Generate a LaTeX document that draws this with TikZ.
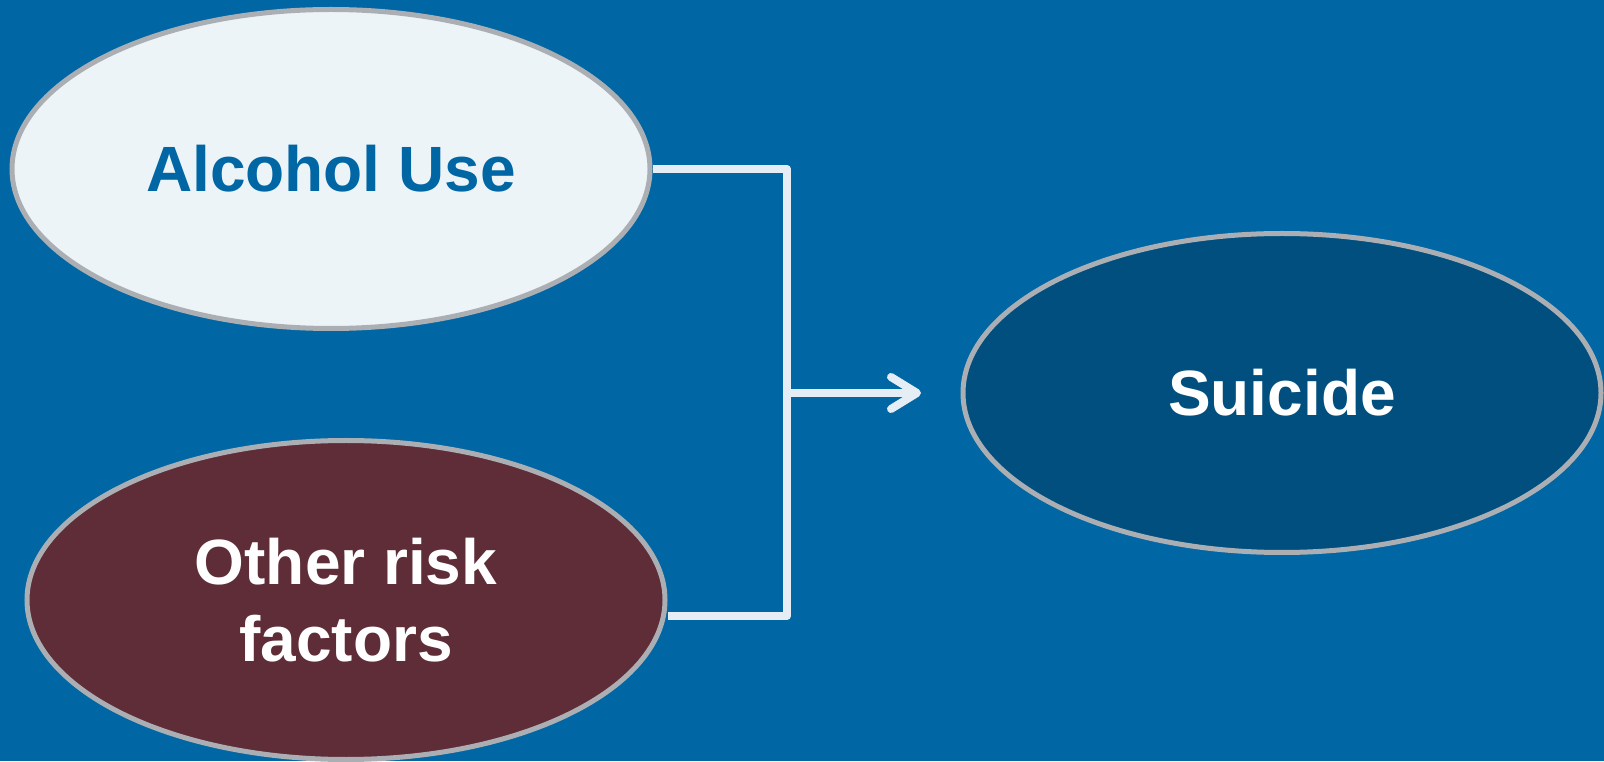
\documentclass[tikz,border=0pt]{standalone}
\usepackage{fontspec}
\setmainfont{Liberation Sans}
\usetikzlibrary{shapes.geometric,arrows.meta,backgrounds}
\definecolor{bg}{HTML}{0066A4}
\definecolor{alcfill}{HTML}{EDF4F8}
\definecolor{othfill}{HTML}{5E2D38}
\definecolor{suifill}{HTML}{004F7E}
\definecolor{rim}{HTML}{ABAFB3}
\definecolor{connc}{HTML}{E6EEF5}
\tikzset{
  oval/.style={ellipse, draw=rim, line width=5pt, minimum width=638pt, minimum height=319pt,
    inner sep=0pt, align=center, font=\bfseries\fontsize{64}{77}\selectfont},
  conn/.style={draw=connc, line width=8pt, line join=round},
}
\begin{document}
\begin{tikzpicture}[x=1pt,y=1pt]
\useasboundingbox (0,0) rectangle (1604,761);
\node[oval, fill=alcfill, text=bg] (alc) at (331,592) {Alcohol Use};
\node[oval, fill=othfill, text=white] (oth) at (346,161) {Other risk\\factors};
\node[oval, fill=suifill, text=white] (sui) at (1282,368) {Suicide};
\coordinate (j) at (787,368);
\coordinate (tip) at (921,368);
\begin{pgfonlayer}{background}
\fill[bg] (0,0) rectangle (1604,761);
\draw[conn] (alc.east) -| (j);
\draw[conn] ([yshift=-16pt]oth.east) -| (j);
\draw[conn, -{Straight Barb[length=26pt, width=32pt, round]}] (j) -- (tip);
\end{pgfonlayer}
\end{tikzpicture}
\end{document}
